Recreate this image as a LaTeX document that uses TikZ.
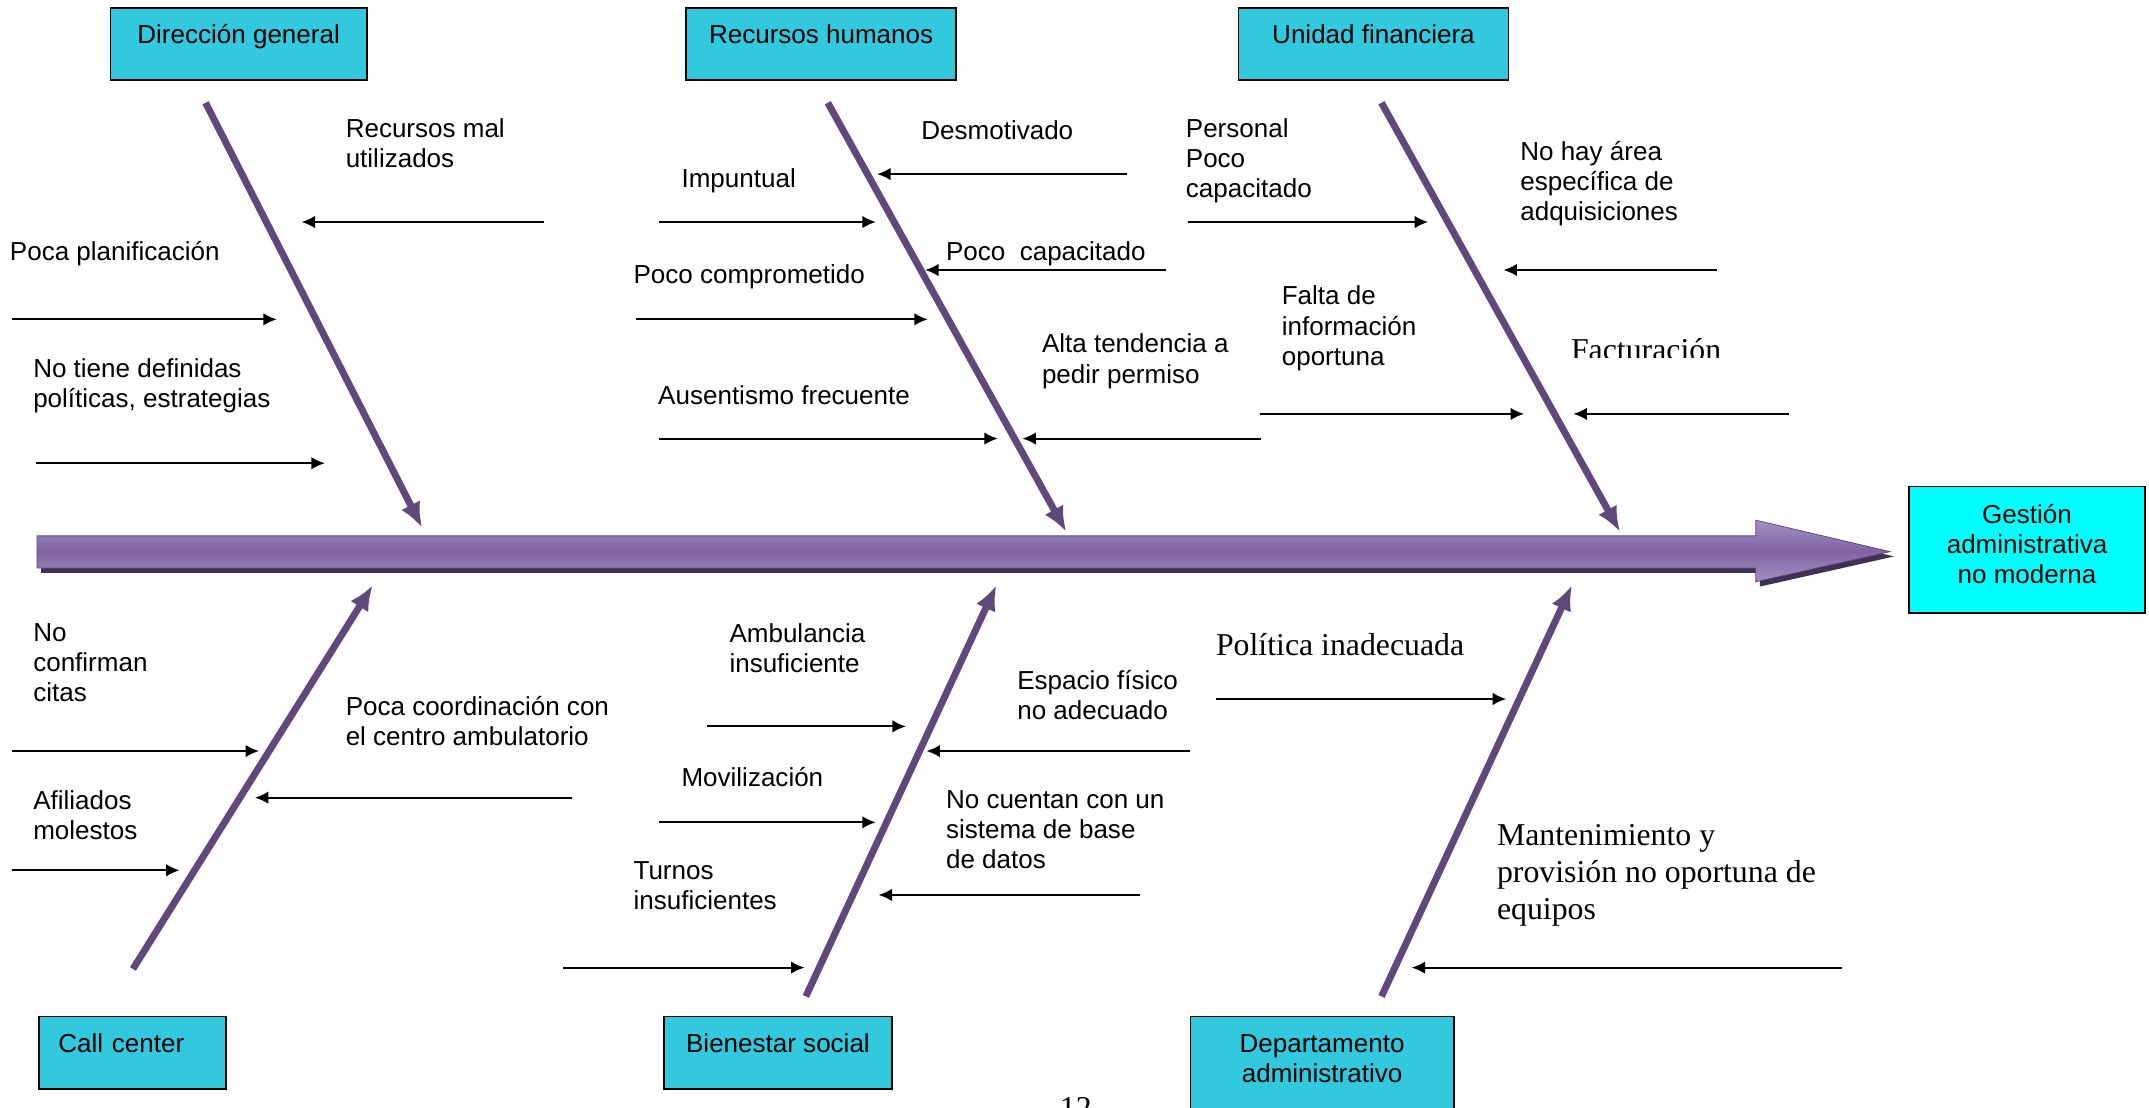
\documentclass[tikz,border=0pt]{standalone}
\usepackage{fontspec}
\setmainfont{Liberation Sans}
\newfontfamily\timesfont{Liberation Serif}
\usetikzlibrary{shapes,arrows.meta,positioning}
\definecolor{boxcyan}{RGB}{50,201,222}
\definecolor{goalcyan}{RGB}{0,255,255}
\definecolor{bonepurple}{RGB}{95,73,122}
\definecolor{spinemid}{RGB}{128,100,162}
\definecolor{spinelight}{RGB}{163,145,194}
\definecolor{spinedark}{RGB}{63,49,81}
\tikzstyle{box} = [rectangle, draw, fill=boxcyan, line width=0.9pt, align=center,
    inner ysep=0pt, text height=0.66cm, text depth=0.66cm, anchor=north west,
    font=\fontsize{13.5}{15.6}\selectfont]
\tikzstyle{goal} = [rectangle, draw, fill=goalcyan, line width=0.9pt, align=center,
    minimum width=4.3cm, minimum height=2.3cm, text depth=0.2cm,
    font=\fontsize{13.5}{15.6}\selectfont]
\tikzstyle{cause} = [anchor=north west, align=left, inner sep=0pt,
    font=\fontsize{13.5}{15.6}\selectfont, execute at begin node=\strut]
\tikzstyle{causeserif} = [cause, font=\fontsize{16.5}{19.2}\selectfont\timesfont]
\tikzstyle{line} = [draw, line width=1pt, -{Latex[length=7pt,width=6.5pt]}]
\tikzstyle{bone} = [draw, bonepurple, line width=3.6pt, -{Latex[length=13pt,width=11pt]}]

\begin{document}
\begin{tikzpicture}[x=0.025cm, y=-0.025cm]
    \useasboundingbox (0,0) rectangle (1568,808);
    % Spine
    \coordinate (tail) at (27,402.5);
    \coordinate (head) at (1379,402.5);
    \fill [spinedark] ([shift={(3,3.5)}]tail) ++(0,-11.5) -- ++(1254,0) -- ++(0,-11.5)
        -- ([shift={(3,3.5)}]head) -- ++(-98,22) -- ++(0,-10) -- ++(-1254,0) -- cycle;
    \path [draw=bonepurple, top color=spinelight, bottom color=spinelight, middle color=spinemid]
        (tail) ++(0,-11.5) -- ++(1254,0) -- ++(0,-11.5) -- (head) -- ++(-98,22)
        -- ++(0,-10) -- ++(-1254,0) -- cycle;

    % Place nodes
    \node [box, minimum width=187*0.025cm] (dirgen) at (80,5) {Dirección general};
    \node [box, minimum width=197*0.025cm] (rrhh) at (500,5) {Recursos humanos};
    \node [box, minimum width=197*0.025cm] (unifin) at (903,5) {Unidad financiera};
    \node [box, align=left, text width=108*0.025cm, inner xsep=14*0.025cm] (callc) at (28,741) {Call center};
    \node [box, minimum width=166*0.025cm] (bienes) at (484,741) {Bienestar social};
    \node [box, minimum width=192*0.025cm, text height=1.21cm, text depth=0.9cm] (depadm) at (868,741) {Departamento\\administrativo};
    \node [goal] (gestion) at (1479,401) {Gestión\\administrativa\\no moderna};

    \node [cause] (rmal) at (252,86.5) {Recursos mal\\utilizados};
    \node [cause] (pplan) at (7,174.5) {Poca planificación};
    \node [cause] (ndef) at (24,261.5) {No tiene definidas\\políticas, estrategias};
    \node [cause] (desm) at (672,86.5) {Desmotivado};
    \node [cause] (impu) at (497,121.5) {Impuntual};
    \node [cause] (pcap) at (690,174.5) {Poco\ \ capacitado};
    \node [cause] (pcomp) at (462,191.5) {Poco comprometido};
    \node [cause] (alta) at (760,243.5) {Alta tendencia a\\pedir permiso};
    \node [cause] (ause) at (480,279.5) {Ausentismo frecuente};
    \node [cause] (pers) at (865,86.5) {Personal\\Poco\\capacitado};
    \node [cause] (nohay) at (1109,102.5) {No hay área\\específica de\\adquisiciones};
    \node [cause] (falta) at (935,208.5) {Falta de\\información\\oportuna};
    \begin{scope}
        \clip (1130,225) rectangle (1320,261);
        \node [causeserif] (fact) at (1146,244) {Facturación};
    \end{scope}

    \node [cause] (noconf) at (24,454.5) {No\\confirman\\citas};
    \node [cause] (pcoord) at (252,507.5) {Poca coordinación con\\el centro ambulatorio};
    \node [cause] (afil) at (24,576.5) {Afiliados\\molestos};
    \node [cause] (amb) at (532,454.5) {Ambulancia\\insuficiente};
    \node [cause] (esp) at (742,488.5) {Espacio físico\\no adecuado};
    \node [cause] (movil) at (497,558.5) {Movilización};
    \node [cause] (nocu) at (690,576.5) {No cuentan con un\\sistema de base\\de datos};
    \node [cause] (turn) at (462,628.5) {Turnos\\insuficientes};
    \node [causeserif] (polit) at (887,459) {Política inadecuada};
    \node [causeserif] (mant) at (1092,601) {Mantenimiento y\\provisión no oportuna de\\equipos};
    \node [causeserif, anchor=north] (pagenum) at (785,797) {12};

    % Bone ends
    \coordinate (dg1) at (150,75);   \coordinate (dg2) at (308,385);
    \coordinate (rh1) at (604,75);   \coordinate (rh2) at (778,388);
    \coordinate (uf1) at (1008,75);  \coordinate (uf2) at (1182,388);
    \coordinate (cc1) at (97,707);   \coordinate (cc2) at (272,427);
    \coordinate (bs1) at (588,727);  \coordinate (bs2) at (727,427);
    \coordinate (da1) at (1008,727); \coordinate (da2) at (1147,427);

    % Cause arrow ends
    \coordinate (rmal1) at (397,162);   \coordinate (rmal2) at (220,162);
    \coordinate (pplan1) at (9,233);    \coordinate (pplan2) at (202,233);
    \coordinate (ndef1) at (26,338);    \coordinate (ndef2) at (237,338);
    \coordinate (desm1) at (822,127);   \coordinate (desm2) at (640,127);
    \coordinate (impu1) at (481,162);   \coordinate (impu2) at (639,162);
    \coordinate (pcap1) at (851,197);   \coordinate (pcap2) at (675,197);
    \coordinate (pcomp1) at (464,233);  \coordinate (pcomp2) at (677,233);
    \coordinate (ause1) at (481,320);   \coordinate (ause2) at (728,320);
    \coordinate (alta1) at (920,320);   \coordinate (alta2) at (746,320);
    \coordinate (pers1) at (867,162);   \coordinate (pers2) at (1042,162);
    \coordinate (nohay1) at (1253,197); \coordinate (nohay2) at (1097,197);
    \coordinate (falta1) at (919,302);  \coordinate (falta2) at (1112,302);
    \coordinate (fact1) at (1305,302);  \coordinate (fact2) at (1148,302);
    \coordinate (noconf1) at (9,548);   \coordinate (noconf2) at (189,548);
    \coordinate (pcoord1) at (417,582); \coordinate (pcoord2) at (186,582);
    \coordinate (afil1) at (9,635);     \coordinate (afil2) at (131,635);
    \coordinate (amb1) at (516,530);    \coordinate (amb2) at (661,530);
    \coordinate (esp1) at (868,548);    \coordinate (esp2) at (676,548);
    \coordinate (movil1) at (481,600);  \coordinate (movil2) at (639,600);
    \coordinate (nocu1) at (832,653);   \coordinate (nocu2) at (641,653);
    \coordinate (turn1) at (411,706);   \coordinate (turn2) at (587,706);
    \coordinate (polit1) at (887,510);  \coordinate (polit2) at (1099,510);
    \coordinate (mant1) at (1344,706);  \coordinate (mant2) at (1030,706);

    % Draw edges
    \path [bone] (dg1) -- (dg2);
    \path [bone] (rh1) -- (rh2);
    \path [bone] (uf1) -- (uf2);
    \path [bone] (cc1) -- (cc2);
    \path [bone] (bs1) -- (bs2);
    \path [bone] (da1) -- (da2);

    \path [line] (rmal1) -- (rmal2);
    \path [line] (pplan1) -- (pplan2);
    \path [line] (ndef1) -- (ndef2);
    \path [line] (desm1) -- (desm2);
    \path [line] (impu1) -- (impu2);
    \path [line] (pcap1) -- (pcap2);
    \path [line] (pcomp1) -- (pcomp2);
    \path [line] (ause1) -- (ause2);
    \path [line] (alta1) -- (alta2);
    \path [line] (pers1) -- (pers2);
    \path [line] (nohay1) -- (nohay2);
    \path [line] (falta1) -- (falta2);
    \path [line] (fact1) -- (fact2);
    \path [line] (noconf1) -- (noconf2);
    \path [line] (pcoord1) -- (pcoord2);
    \path [line] (afil1) -- (afil2);
    \path [line] (amb1) -- (amb2);
    \path [line] (esp1) -- (esp2);
    \path [line] (movil1) -- (movil2);
    \path [line] (nocu1) -- (nocu2);
    \path [line] (turn1) -- (turn2);
    \path [line] (polit1) -- (polit2);
    \path [line] (mant1) -- (mant2);
\end{tikzpicture}
\end{document}
